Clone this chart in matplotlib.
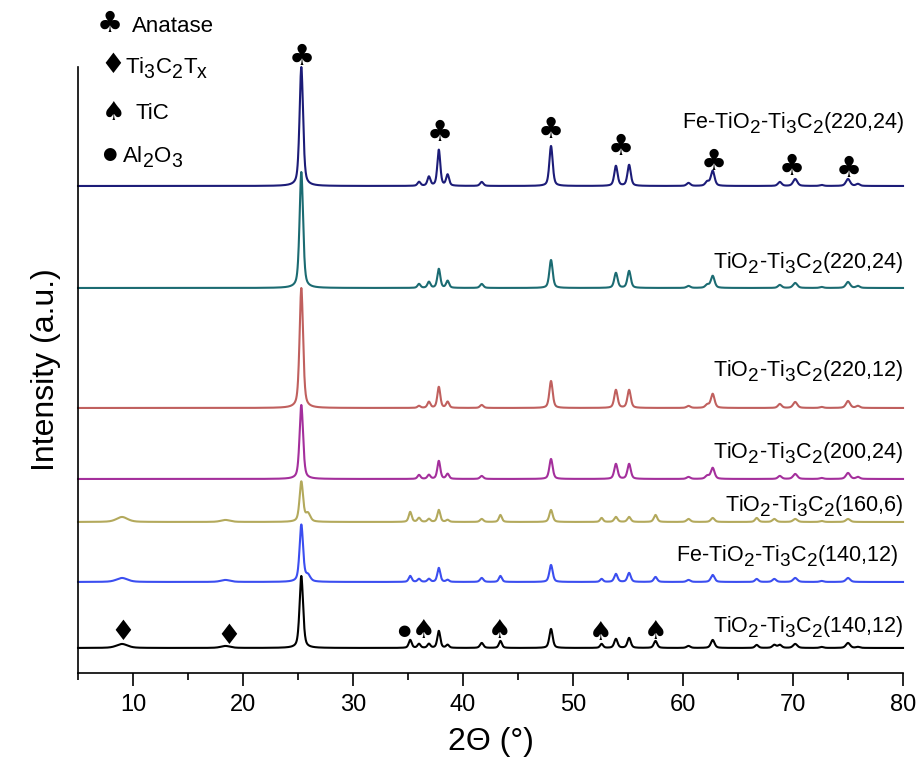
import numpy as np
import matplotlib
matplotlib.use("Agg")
import matplotlib.pyplot as plt
try:
    import matplotlib._mathtext as _mt
    _mt.SHRINK_FACTOR = 0.88
    _mt.FontConstantsBase.sub1 = 0.42
    _mt.FontConstantsBase.sub2 = 0.55
except Exception:
    pass

plt.rcParams['font.family'] = ['Liberation Sans', 'DejaVu Sans']
plt.rcParams['mathtext.fontset'] = 'custom'
plt.rcParams['mathtext.rm'] = 'Liberation Sans'
plt.rcParams['mathtext.it'] = 'Liberation Sans'
plt.rcParams['mathtext.bf'] = 'Liberation Sans:bold'

# ---------------- data ----------------
peak_pos = [9.0, 18.4, 25.3, 25.9, 35.2, 36.0, 36.9, 37.8, 38.6, 41.7, 43.4, 48.0,
            52.6, 53.9, 55.1, 57.5, 60.5, 62.2, 62.7, 66.7, 68.3, 68.8, 70.2, 72.6,
            75.0, 75.9]
peak_fwhm = [1.2, 1.0, 0.38, 0.5, 0.32, 0.32, 0.32, 0.32, 0.32, 0.36, 0.32, 0.36,
             0.32, 0.36, 0.36, 0.36, 0.4, 0.4, 0.4, 0.36, 0.4, 0.4, 0.45, 0.4,
             0.45, 0.4]

h_fe_220_24 = [0, 0, 119, 0, 0, 4, 9, 36, 11, 4, 0, 40, 0, 20, 21, 0, 3, 4, 15, 0, 0, 4, 7, 1, 7, 2]
h_220_24    = [0, 0, 116, 0, 0, 4, 6, 19, 7, 4, 0, 28, 0, 15, 17, 0, 2, 3, 12, 0, 0, 3, 5, 1, 6, 2]
h_220_12    = [0, 0, 120, 0, 0, 2, 6, 21, 6, 3, 0, 27, 0, 18, 18, 0, 2, 3, 14, 0, 0, 4, 6, 1, 7, 2]
h_200_24    = [0, 0, 74, 0, 0, 4, 4, 18, 5, 3, 0, 20, 0, 15, 15, 0, 2, 3, 11, 0, 0, 3, 5, 1, 6, 2]
h_160_6     = [5, 2, 40, 8, 10, 4, 3, 12, 2, 3, 7, 12, 4, 5, 5, 7, 3, 0, 4, 4, 3, 0, 3, 1, 3, 0]
h_fe_140_12 = [4, 2, 57, 6, 6, 3, 3, 14, 2, 4, 6, 17, 3, 8, 9, 5, 2, 0, 7, 3, 3, 0, 4, 1, 4, 0]
h_140_12    = [4, 2, 72, 0, 8, 4, 4, 17, 3, 5, 7, 19, 4, 9, 10, 7, 2, 0, 8, 3, 3, 3, 4, 1, 5, 1]

sample_labels = ["TiO$_2$-Ti$_3$C$_2$(140,12)", "Fe-TiO$_2$-Ti$_3$C$_2$(140,12)",
                 "TiO$_2$-Ti$_3$C$_2$(160,6)", "TiO$_2$-Ti$_3$C$_2$(200,24)",
                 "TiO$_2$-Ti$_3$C$_2$(220,12)", "TiO$_2$-Ti$_3$C$_2$(220,24)",
                 "Fe-TiO$_2$-Ti$_3$C$_2$(220,24)"]
heights = [h_140_12, h_fe_140_12, h_160_6, h_200_24, h_220_12, h_220_24, h_fe_220_24]
offsets = [25, 91, 151, 194, 265, 385, 487]
label_y = [40, 111, 161, 214, 296, 404, 544]
label_x = [80, 79.6, 80, 80, 80, 80, 80.1]
colors = ['#000000', '#3b4ef0', '#b3a95c', '#a42f9c', '#c0605e', '#1b6b72', '#1c1c78']

anatase_x = [25.3, 37.9, 48.0, 54.3, 62.8, 69.9, 75.1]
anatase_y = [616, 540, 543, 526, 511, 506, 504]
ti3c2_x = [9.1, 18.7]
ti3c2_y = [41, 37]
tic_x = [36.4, 43.3, 52.5, 57.5]
tic_y = [42, 42, 40, 41]
al2o3_x = [34.6]
al2o3_y = [42]

legend_sym = ['\u2663', '\u2666', '\u2660', '\u25CF']
legend_txt = ['Anatase', 'Ti$_3$C$_2$T$_x$', 'TiC', 'Al$_2$O$_3$']
legend_sym_x = [7.9, 8.2, 8.2, 7.8]
legend_sym_y = [649, 608, 560, 519]
legend_txt_x = [9.9, 9.3, 10.2, 9.0]
legend_txt_y = [641, 599, 554, 510]

# ---------------- plot ----------------
fig = plt.figure(figsize=(9.19, 7.63), dpi=100)
ax = fig.add_axes([0.0849, 0.118, 0.8977, 0.7942])

x = np.linspace(5, 80, 3751)


def pattern(h):
    y = np.zeros_like(x)
    for p, w, a in zip(peak_pos, peak_fwhm, h):
        if a == 0:
            continue
        g = np.exp(-4 * np.log(2) * ((x - p) / w) ** 2)
        lz = 1.0 / (1.0 + (2 * (x - p) / w) ** 2)
        y += a * (0.5 * g + 0.5 * lz)
    return y


for h, off, c in zip(heights, offsets, colors):
    ax.plot(x, off + pattern(h), color=c, lw=1.5, clip_on=False)

for lab, lx, ly in zip(sample_labels, label_x, label_y):
    ax.text(lx, ly, lab, ha='right', va='baseline', fontsize=15.5)

club_size = 21
spade_size = 19
diamond_size = 20
sym_kw = dict(ha='center', va='center', family='DejaVu Sans', clip_on=False)
for sx, sy in zip(anatase_x, anatase_y):
    ax.text(sx, sy, '\u2663', fontsize=club_size, **sym_kw)
for sx, sy in zip(ti3c2_x, ti3c2_y):
    ax.text(sx, sy, '\u2666', fontsize=diamond_size, **sym_kw)
for sx, sy in zip(tic_x, tic_y):
    ax.text(sx, sy, '\u2660', fontsize=spade_size, **sym_kw)
for sx, sy in zip(al2o3_x, al2o3_y):
    ax.text(sx, sy, '\u25CF', fontsize=11, **sym_kw)

legend_sizes = [club_size, diamond_size, spade_size, 12]
for s, t, sx, sy, tx, ty, fs in zip(legend_sym, legend_txt, legend_sym_x, legend_sym_y,
                                    legend_txt_x, legend_txt_y, legend_sizes):
    ax.text(sx, sy, s, fontsize=fs, **sym_kw)
    ax.text(tx, ty, t, ha='left', va='baseline', fontsize=16, clip_on=False)

ax.set_xlim(5, 80)
ax.set_ylim(0, 606)
ax.spines['top'].set_visible(False)
ax.spines['right'].set_visible(False)
ax.spines['left'].set_linewidth(1.2)
ax.spines['bottom'].set_linewidth(1.2)
ax.set_yticks([])
ax.set_xticks([10, 20, 30, 40, 50, 60, 70, 80])
ax.set_xticks([5, 15, 25, 35, 45, 55, 65, 75], minor=True)
ax.tick_params(axis='x', which='major', direction='out', length=9, width=1.2,
               labelsize=17, pad=6)
ax.tick_params(axis='x', which='minor', direction='out', length=5, width=1.2)
ax.set_xlabel('2\u0398 (\u00b0)', fontsize=23, labelpad=8)
ax.set_ylabel('Intensity (a.u.)', fontsize=23, labelpad=12)

fig.savefig('out.png', dpi=100)
